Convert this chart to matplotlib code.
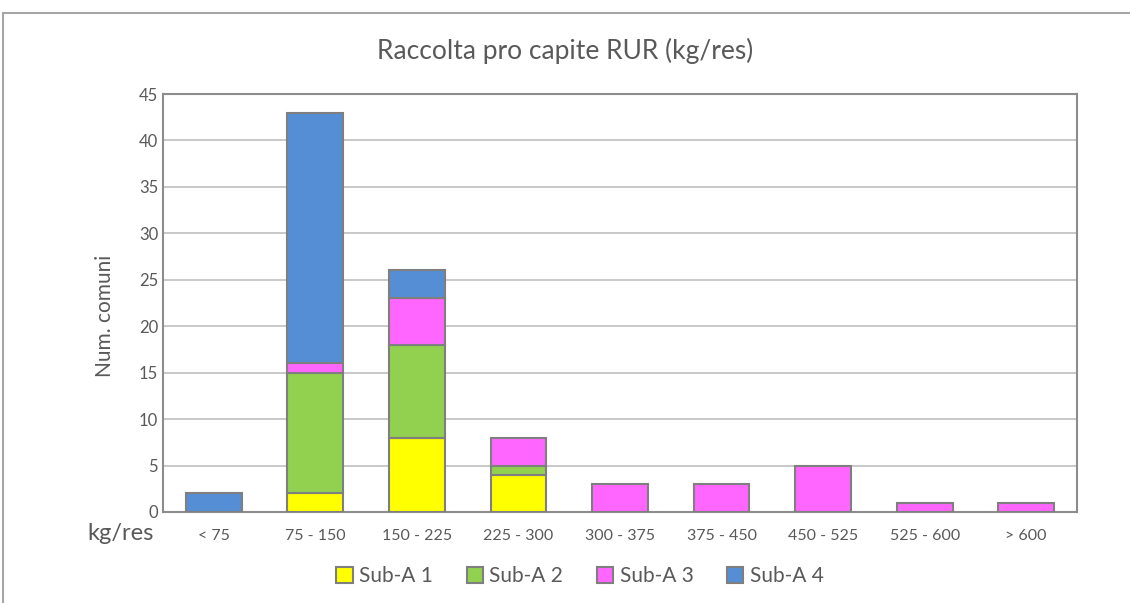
import matplotlib.pyplot as plt
import numpy as np
from matplotlib.lines import Line2D
from matplotlib.patches import Patch

plt.rcParams['font.family'] = ['Lato', 'DejaVu Sans']

categories = ["< 75", "75 - 150", "150 - 225", "225 - 300", "300 - 375",
              "375 - 450", "450 - 525", "525 - 600", "> 600"]
sub_a1 = [0, 2, 8, 4, 0, 0, 0, 0, 0]
sub_a2 = [0, 13, 10, 1, 0, 0, 0, 0, 0]
sub_a3 = [0, 1, 5, 3, 3, 3, 5, 1, 1]
sub_a4 = [2, 27, 3, 0, 0, 0, 0, 0, 0]
series_names = ["Sub-A 1", "Sub-A 2", "Sub-A 3", "Sub-A 4"]
colors = ["#FFFF00", "#92D050", "#FF66FF", "#558ED5"]

TXT = "#595959"
EDGE = "#7f7f7f"

fig = plt.figure(figsize=(11.30, 6.03), dpi=100)
ax = fig.add_axes([163 / 1130, 1 - 512 / 603, 914 / 1130, 418 / 603])

x = np.arange(len(categories))
bottom = np.zeros(len(categories))
for vals, name, col in zip([sub_a1, sub_a2, sub_a3, sub_a4], series_names, colors):
    vals = np.asarray(vals, dtype=float)
    mask = vals > 0
    ax.bar(x[mask], vals[mask], bottom=bottom[mask], width=0.55, color=col,
           edgecolor=EDGE, linewidth=1.5, zorder=3)
    bottom += vals

ax.set_xlim(-0.5, len(categories) - 0.5)
ax.set_ylim(0, 45)
ax.set_yticks(range(0, 46, 5))
ax.grid(axis="y", color="#c0c0c0", lw=1.2, zorder=0)
for s in ax.spines.values():
    s.set_color("#8c8c8c")
    s.set_linewidth(1.5)
ax.tick_params(length=0, colors=TXT, labelsize=12)
ax.tick_params(axis="x", pad=12, labelsize=11.5)
ax.set_xticks(x)
ax.set_xticklabels(categories)
ax.set_ylabel("Num. comuni", fontsize=15, color=TXT)
ax.yaxis.set_label_coords(-48 / 914, 0.47)

fig.text(0.5, 1 - 51 / 603, "Raccolta pro capite RUR (kg/res)", ha="center",
         va="center", fontsize=19, color=TXT)
fig.text(121 / 1130, 1 - 533 / 603, "kg/res", ha="center", va="center",
         fontsize=17, color=TXT)

handles = [Patch(facecolor=c, edgecolor=EDGE, linewidth=1.5) for c in colors]
fig.legend(handles, series_names, loc="center", bbox_to_anchor=(580 / 1130, 1 - 576 / 603),
           ncol=4, frameon=False, fontsize=15, labelcolor=TXT, handlelength=0.8,
           handleheight=0.8, handletextpad=0.3, columnspacing=1.6)

# outer chart frame
fig.add_artist(Line2D([3 / 1130, 1], [1 - 13 / 603, 1 - 13 / 603], color="#a6a6a6", lw=1.5))
fig.add_artist(Line2D([3 / 1130, 3 / 1130], [0, 1 - 13 / 603], color="#a6a6a6", lw=1.5))

fig.savefig("out.png", dpi=100)
